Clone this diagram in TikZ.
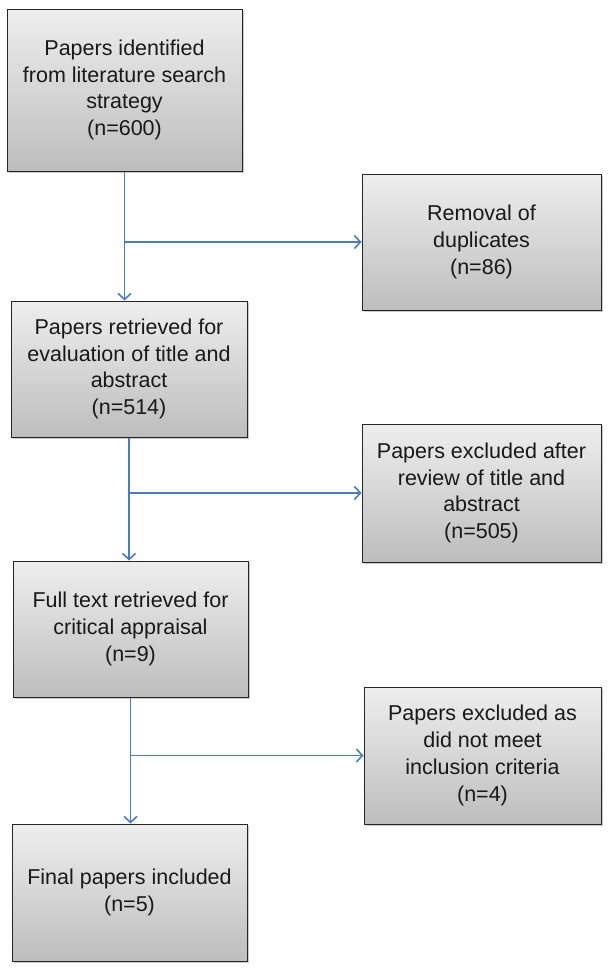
\documentclass[tikz,border=0pt]{standalone}
\usepackage{fontspec}
\setmainfont{Liberation Sans}
\usetikzlibrary{arrows.meta,shadows}
\definecolor{linkblue}{HTML}{4A7EBB}
\definecolor{boxtop}{HTML}{EEEEEE}
\definecolor{boxbottom}{HTML}{BDBDBD}
\definecolor{boxline}{HTML}{262626}
\begin{document}
\begin{tikzpicture}[x=1pt,y=-1pt,
  flowbox/.style={draw=boxline, line width=1pt, top color=boxtop, bottom color=boxbottom,
    drop shadow={shadow xshift=2pt, shadow yshift=-2pt, opacity=0.3, fill=black!70},
    inner sep=0pt, align=center, font=\fontsize{21.5}{26.8}\selectfont, text=black!90},
  link/.style={draw=linkblue, line width=1.6pt},
  linkarrow/.style={link, -{Straight Barb[length=6pt,width=13pt,line width=1.6pt]}}]
\useasboundingbox (0,0) rectangle (614,972);
\node[flowbox, minimum width=235pt, minimum height=162pt] (b1) at (124.5,90)
  {Papers identified\\from literature search\\strategy\\(n=600)};
\node[flowbox, minimum width=239pt, minimum height=136pt] (b2) at (481.5,242)
  {Removal of\\duplicates\\(n=86)};
\node[flowbox, minimum width=236pt, minimum height=136pt] (b3) at (129,369)
  {Papers retrieved for\\evaluation of title and\\abstract\\(n=514)};
\node[flowbox, minimum width=239pt, minimum height=138pt] (b4) at (481.5,493)
  {Papers excluded after\\review of title and\\abstract\\(n=505)};
\node[flowbox, minimum width=235pt, minimum height=136pt] (b5) at (130.5,629)
  {Full text retrieved for\\critical appraisal\\(n=9)};
\node[flowbox, minimum width=237pt, minimum height=137pt] (b6) at (482.5,755.5)
  {Papers excluded as\\did not meet\\inclusion criteria\\(n=4)};
\node[flowbox, minimum width=235pt, minimum height=137pt] (b7) at (129.5,892.5)
  {Final papers included\\(n=5)};
% connectors
\coordinate (j1) at (b1.south |- b2.west);
\coordinate (j2) at (b3.south |- b4.west);
\coordinate (j3) at (b5.south |- b6.west);
\draw[linkarrow] (b1.south) -- (b1.south |- b3.north);
\draw[linkarrow] (j1) -- (b2.west);
\draw[linkarrow] (b3.south) -- (b3.south |- b5.north);
\draw[linkarrow] (j2) -- (b4.west);
\draw[linkarrow] (b5.south) -- (b5.south |- b7.north);
\draw[linkarrow] (j3) -- (b6.west);
\end{tikzpicture}
\end{document}
